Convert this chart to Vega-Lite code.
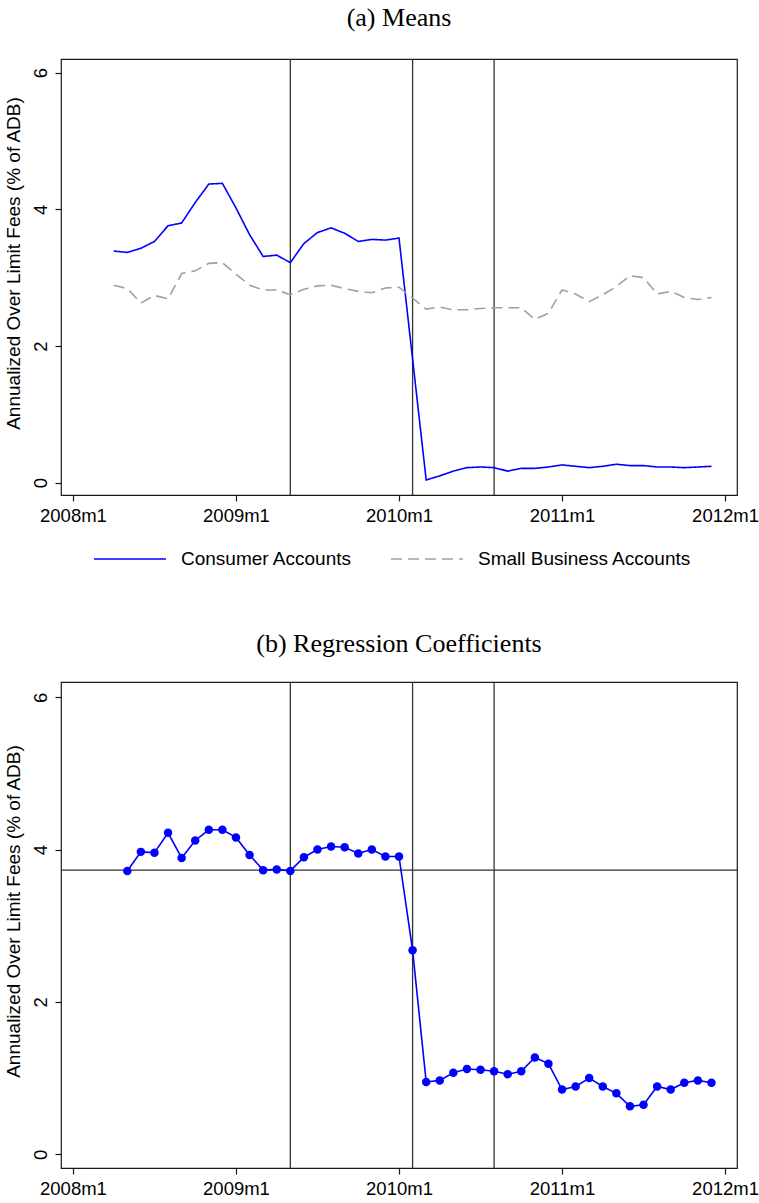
{
  "$schema": "https://vega.github.io/schema/vega-lite/v6.json",
  "background": "white",
  "padding": {"left": 3, "top": 4, "right": 0, "bottom": 0},
  "spacing": 104,
  "config": {
    "view": {"stroke": "#1a1a1a", "strokeWidth": 1.2},
    "axis": {"labelFont": "Liberation Sans", "titleFont": "Liberation Sans", "labelFontSize": 18.5, "titleFontSize": 19, "titleFontWeight": "normal", "labelColor": "black", "titleColor": "black", "grid": false, "domain": false, "tickColor": "#1a1a1a", "tickSize": 6, "tickWidth": 1.2},
    "title": {"font": "Liberation Serif", "fontSize": 26, "fontWeight": "normal", "color": "black", "offset": 27}
  },
  "datasets": {
    "vlines": [{"m": 16}, {"m": 25}, {"m": 31}],
    "hline": [{"v": 3.73}],
    "means": [
      {"m": 3, "series": "Consumer Accounts", "v": 3.39},
      {"m": 4, "series": "Consumer Accounts", "v": 3.37},
      {"m": 5, "series": "Consumer Accounts", "v": 3.43},
      {"m": 6, "series": "Consumer Accounts", "v": 3.53},
      {"m": 7, "series": "Consumer Accounts", "v": 3.76},
      {"m": 8, "series": "Consumer Accounts", "v": 3.80},
      {"m": 9, "series": "Consumer Accounts", "v": 4.10},
      {"m": 10, "series": "Consumer Accounts", "v": 4.37},
      {"m": 11, "series": "Consumer Accounts", "v": 4.38},
      {"m": 12, "series": "Consumer Accounts", "v": 4.02},
      {"m": 13, "series": "Consumer Accounts", "v": 3.63},
      {"m": 14, "series": "Consumer Accounts", "v": 3.31},
      {"m": 15, "series": "Consumer Accounts", "v": 3.33},
      {"m": 16, "series": "Consumer Accounts", "v": 3.22},
      {"m": 17, "series": "Consumer Accounts", "v": 3.50},
      {"m": 18, "series": "Consumer Accounts", "v": 3.66},
      {"m": 19, "series": "Consumer Accounts", "v": 3.73},
      {"m": 20, "series": "Consumer Accounts", "v": 3.65},
      {"m": 21, "series": "Consumer Accounts", "v": 3.53},
      {"m": 22, "series": "Consumer Accounts", "v": 3.56},
      {"m": 23, "series": "Consumer Accounts", "v": 3.55},
      {"m": 24, "series": "Consumer Accounts", "v": 3.58},
      {"m": 25, "series": "Consumer Accounts", "v": 1.81},
      {"m": 26, "series": "Consumer Accounts", "v": 0.04},
      {"m": 27, "series": "Consumer Accounts", "v": 0.10},
      {"m": 28, "series": "Consumer Accounts", "v": 0.17},
      {"m": 29, "series": "Consumer Accounts", "v": 0.22},
      {"m": 30, "series": "Consumer Accounts", "v": 0.23},
      {"m": 31, "series": "Consumer Accounts", "v": 0.22},
      {"m": 32, "series": "Consumer Accounts", "v": 0.17},
      {"m": 33, "series": "Consumer Accounts", "v": 0.21},
      {"m": 34, "series": "Consumer Accounts", "v": 0.21},
      {"m": 35, "series": "Consumer Accounts", "v": 0.23},
      {"m": 36, "series": "Consumer Accounts", "v": 0.26},
      {"m": 37, "series": "Consumer Accounts", "v": 0.24},
      {"m": 38, "series": "Consumer Accounts", "v": 0.22},
      {"m": 39, "series": "Consumer Accounts", "v": 0.24},
      {"m": 40, "series": "Consumer Accounts", "v": 0.27},
      {"m": 41, "series": "Consumer Accounts", "v": 0.25},
      {"m": 42, "series": "Consumer Accounts", "v": 0.25},
      {"m": 43, "series": "Consumer Accounts", "v": 0.23},
      {"m": 44, "series": "Consumer Accounts", "v": 0.23},
      {"m": 45, "series": "Consumer Accounts", "v": 0.22},
      {"m": 46, "series": "Consumer Accounts", "v": 0.23},
      {"m": 47, "series": "Consumer Accounts", "v": 0.24},
      {"m": 3, "series": "Small Business Accounts", "v": 2.89},
      {"m": 4, "series": "Small Business Accounts", "v": 2.84},
      {"m": 5, "series": "Small Business Accounts", "v": 2.63},
      {"m": 6, "series": "Small Business Accounts", "v": 2.74},
      {"m": 7, "series": "Small Business Accounts", "v": 2.69},
      {"m": 8, "series": "Small Business Accounts", "v": 3.06},
      {"m": 9, "series": "Small Business Accounts", "v": 3.10},
      {"m": 10, "series": "Small Business Accounts", "v": 3.21},
      {"m": 11, "series": "Small Business Accounts", "v": 3.22},
      {"m": 12, "series": "Small Business Accounts", "v": 3.05},
      {"m": 13, "series": "Small Business Accounts", "v": 2.89},
      {"m": 14, "series": "Small Business Accounts", "v": 2.82},
      {"m": 15, "series": "Small Business Accounts", "v": 2.82},
      {"m": 16, "series": "Small Business Accounts", "v": 2.75},
      {"m": 17, "series": "Small Business Accounts", "v": 2.83},
      {"m": 18, "series": "Small Business Accounts", "v": 2.88},
      {"m": 19, "series": "Small Business Accounts", "v": 2.89},
      {"m": 20, "series": "Small Business Accounts", "v": 2.84},
      {"m": 21, "series": "Small Business Accounts", "v": 2.80},
      {"m": 22, "series": "Small Business Accounts", "v": 2.78},
      {"m": 23, "series": "Small Business Accounts", "v": 2.85},
      {"m": 24, "series": "Small Business Accounts", "v": 2.86},
      {"m": 25, "series": "Small Business Accounts", "v": 2.70},
      {"m": 26, "series": "Small Business Accounts", "v": 2.54},
      {"m": 27, "series": "Small Business Accounts", "v": 2.57},
      {"m": 28, "series": "Small Business Accounts", "v": 2.53},
      {"m": 29, "series": "Small Business Accounts", "v": 2.53},
      {"m": 30, "series": "Small Business Accounts", "v": 2.55},
      {"m": 31, "series": "Small Business Accounts", "v": 2.56},
      {"m": 32, "series": "Small Business Accounts", "v": 2.56},
      {"m": 33, "series": "Small Business Accounts", "v": 2.56},
      {"m": 34, "series": "Small Business Accounts", "v": 2.39},
      {"m": 35, "series": "Small Business Accounts", "v": 2.48},
      {"m": 36, "series": "Small Business Accounts", "v": 2.82},
      {"m": 37, "series": "Small Business Accounts", "v": 2.76},
      {"m": 38, "series": "Small Business Accounts", "v": 2.65},
      {"m": 39, "series": "Small Business Accounts", "v": 2.75},
      {"m": 40, "series": "Small Business Accounts", "v": 2.87},
      {"m": 41, "series": "Small Business Accounts", "v": 3.03},
      {"m": 42, "series": "Small Business Accounts", "v": 3.00},
      {"m": 43, "series": "Small Business Accounts", "v": 2.76},
      {"m": 44, "series": "Small Business Accounts", "v": 2.80},
      {"m": 45, "series": "Small Business Accounts", "v": 2.71},
      {"m": 46, "series": "Small Business Accounts", "v": 2.68},
      {"m": 47, "series": "Small Business Accounts", "v": 2.71}
    ],
    "coefs": [
      {"m": 4, "v": 3.72}, {"m": 5, "v": 3.97}, {"m": 6, "v": 3.96}, {"m": 7, "v": 4.22},
      {"m": 8, "v": 3.89}, {"m": 9, "v": 4.12}, {"m": 10, "v": 4.26}, {"m": 11, "v": 4.26},
      {"m": 12, "v": 4.16}, {"m": 13, "v": 3.93}, {"m": 14, "v": 3.73}, {"m": 15, "v": 3.74},
      {"m": 16, "v": 3.72}, {"m": 17, "v": 3.90}, {"m": 18, "v": 4.00}, {"m": 19, "v": 4.04},
      {"m": 20, "v": 4.03}, {"m": 21, "v": 3.95}, {"m": 22, "v": 4.00}, {"m": 23, "v": 3.91},
      {"m": 24, "v": 3.91}, {"m": 25, "v": 2.68}, {"m": 26, "v": 0.95}, {"m": 27, "v": 0.97},
      {"m": 28, "v": 1.07}, {"m": 29, "v": 1.12}, {"m": 30, "v": 1.11}, {"m": 31, "v": 1.09},
      {"m": 32, "v": 1.05}, {"m": 33, "v": 1.09}, {"m": 34, "v": 1.27}, {"m": 35, "v": 1.19},
      {"m": 36, "v": 0.85}, {"m": 37, "v": 0.89}, {"m": 38, "v": 1.00}, {"m": 39, "v": 0.89},
      {"m": 40, "v": 0.80}, {"m": 41, "v": 0.63}, {"m": 42, "v": 0.65}, {"m": 43, "v": 0.89},
      {"m": 44, "v": 0.85}, {"m": 45, "v": 0.94}, {"m": 46, "v": 0.97}, {"m": 47, "v": 0.94}
    ]
  },
  "vconcat": [
    {
      "width": 676,
      "height": 436,
      "title": "(a) Means",
      "layer": [
        {
          "data": {"name": "vlines"},
          "mark": {"type": "rule", "color": "#333333", "strokeWidth": 1.3},
          "encoding": {
            "x": {"field": "m", "type": "quantitative", "scale": {"domain": [-0.88, 48.88], "nice": false, "zero": false}, "axis": {"values": [0, 12, 24, 36, 48], "labelExpr": "(2008 + datum.value/12) + 'm1'", "title": null, "labelPadding": 5}}
          }
        },
        {
          "data": {"name": "means"},
          "mark": {"type": "line", "strokeWidth": 1.6},
          "encoding": {
            "x": {"field": "m", "type": "quantitative", "scale": {"domain": [-0.88, 48.88], "nice": false, "zero": false}, "axis": {"values": [0, 12, 24, 36, 48], "labelExpr": "(2008 + datum.value/12) + 'm1'", "title": null, "labelPadding": 5}},
            "y": {"field": "v", "type": "quantitative", "scale": {"domain": [-0.18, 6.2], "nice": false, "zero": false}, "axis": {"values": [0, 2, 4, 6], "title": "Annualized Over Limit Fees (% of ADB)", "labelAngle": 270, "labelAlign": "center", "labelBaseline": "bottom", "labelPadding": 5, "titlePadding": 8, "titleY": 204}},
            "color": {"field": "series", "type": "nominal", "scale": {"domain": ["Consumer Accounts", "Small Business Accounts"], "range": ["#0000ff", "#a0a0a0"]}, "legend": {"orient": "none", "legendX": 32, "legendY": 463, "direction": "horizontal", "title": null, "symbolType": "stroke", "symbolSize": 5184, "symbolStrokeWidth": 1.6, "labelFont": "Liberation Sans", "labelFontSize": 19, "labelColor": "black", "labelOffset": 14, "columnPadding": 34, "padding": 0, "labelLimit": 400}},
            "strokeDash": {"field": "series", "type": "nominal", "scale": {"domain": ["Consumer Accounts", "Small Business Accounts"], "range": [[1, 0], [11, 6]]}, "legend": {"orient": "none", "legendX": 32, "legendY": 463, "direction": "horizontal", "title": null, "symbolType": "stroke", "symbolSize": 5184, "symbolStrokeWidth": 1.6, "labelFont": "Liberation Sans", "labelFontSize": 19, "labelColor": "black", "labelOffset": 14, "columnPadding": 34, "padding": 0, "labelLimit": 400}}
          }
        }
      ]
    },
    {
      "width": 676,
      "height": 486,
      "title": {"text": "(b) Regression Coefficients", "offset": 24},
      "layer": [
        {
          "data": {"name": "vlines"},
          "mark": {"type": "rule", "color": "#333333", "strokeWidth": 1.3},
          "encoding": {
            "x": {"field": "m", "type": "quantitative", "scale": {"domain": [-0.88, 48.88], "nice": false, "zero": false}, "axis": {"values": [0, 12, 24, 36, 48], "labelExpr": "(2008 + datum.value/12) + 'm1'", "title": null, "labelPadding": 5}}
          }
        },
        {
          "data": {"name": "hline"},
          "mark": {"type": "rule", "color": "#333333", "strokeWidth": 1.3},
          "encoding": {
            "y": {"field": "v", "type": "quantitative", "scale": {"domain": [-0.18, 6.2], "nice": false, "zero": false}, "axis": {"values": [0, 2, 4, 6], "title": "Annualized Over Limit Fees (% of ADB)", "labelAngle": 270, "labelAlign": "center", "labelBaseline": "bottom", "labelPadding": 5, "titlePadding": 8, "titleY": 229}}
          }
        },
        {
          "data": {"name": "coefs"},
          "mark": {"type": "line", "color": "#0000ff", "strokeWidth": 1.6},
          "encoding": {
            "x": {"field": "m", "type": "quantitative", "scale": {"domain": [-0.88, 48.88], "nice": false, "zero": false}, "axis": {"values": [0, 12, 24, 36, 48], "labelExpr": "(2008 + datum.value/12) + 'm1'", "title": null, "labelPadding": 5}},
            "y": {"field": "v", "type": "quantitative", "scale": {"domain": [-0.18, 6.2], "nice": false, "zero": false}, "axis": {"values": [0, 2, 4, 6], "title": "Annualized Over Limit Fees (% of ADB)", "labelAngle": 270, "labelAlign": "center", "labelBaseline": "bottom", "labelPadding": 5, "titlePadding": 8, "titleY": 229}}
          }
        },
        {
          "data": {"name": "coefs"},
          "mark": {"type": "point", "filled": true, "color": "#0000ff", "size": 72, "opacity": 1},
          "encoding": {
            "x": {"field": "m", "type": "quantitative", "scale": {"domain": [-0.88, 48.88], "nice": false, "zero": false}, "axis": {"values": [0, 12, 24, 36, 48], "labelExpr": "(2008 + datum.value/12) + 'm1'", "title": null, "labelPadding": 5}},
            "y": {"field": "v", "type": "quantitative", "scale": {"domain": [-0.18, 6.2], "nice": false, "zero": false}, "axis": {"values": [0, 2, 4, 6], "title": "Annualized Over Limit Fees (% of ADB)", "labelAngle": 270, "labelAlign": "center", "labelBaseline": "bottom", "labelPadding": 5, "titlePadding": 8, "titleY": 229}}
          }
        }
      ]
    }
  ]
}
